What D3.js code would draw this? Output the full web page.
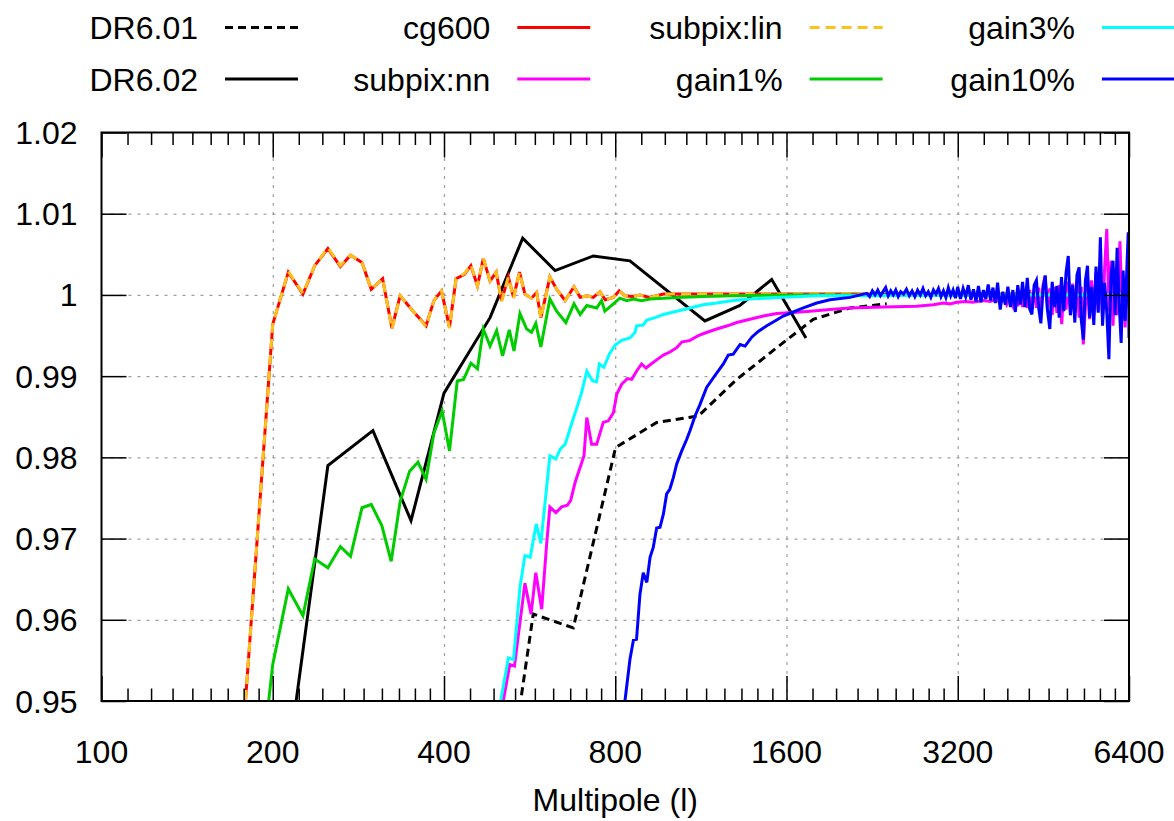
<!DOCTYPE html>
<html>
<head>
<meta charset="utf-8">
<script src="https://cdn.jsdelivr.net/npm/d3@7"></script>
<style>
  body { margin: 0; background: #fff; }
  svg { display: block; font-family: "Liberation Sans", Arial, Helvetica, sans-serif; }
</style>
</head>
<body>
<div id="chart"></div>
<script>
// x ticks (multipole) and y ticks (ratio)
const xTicks = [100, 200, 400, 800, 1600, 3200, 6400];
const yTicks = [0.95, 0.96, 0.97, 0.98, 0.99, 1.00, 1.01, 1.02];
const yTickLabels = ['0.95', '0.96', '0.97', '0.98', '0.99', '1', '1.01', '1.02'];

// each series: [multipole, ratio]
const dr601 = [
  [500, 0.9317], [574, 0.9607], [675, 0.9590], [801, 0.9812], [946, 0.9843],
  [1120, 0.9851], [1308, 0.9896], [1538, 0.9935], [1783, 0.9970], [2069, 0.9984], [2400, 0.9989]
];

const dr602 = [
  [200, 0.9286], [250, 0.9790], [300, 0.9833], [350, 0.9722], [400, 0.9879], [482, 0.9972],
  [550, 1.0070], [627, 1.0030], [732, 1.0048], [849, 1.0042], [1150, 0.9968], [1325, 0.9987],
  [1507, 1.0019], [1731, 0.9947]
];

const cg600 = [
  [175, 0.9403], [200, 0.9964], [213, 1.0028], [226, 1.0001], [237, 1.0036], [250, 1.0057],
  [263, 1.0035], [274, 1.0049], [287, 1.0040], [298, 1.0007], [312, 1.0020], [324, 0.9959],
  [335, 0.9999], [353, 0.9980], [372, 0.9962], [384, 0.9993], [396, 1.0005], [409, 0.9960],
  [420, 1.0020], [434, 1.0025], [446, 1.0036], [458, 1.0011], [469, 1.0045], [482, 1.0017],
  [494, 1.0028], [505, 0.9993], [519, 1.0022], [530, 0.9997], [543, 1.0028], [555, 1.0001],
  [570, 0.9996], [582, 1.0003], [592, 0.9972], [614, 1.0022], [631, 1.0007], [653, 0.9993],
  [677, 1.0010], [694, 0.9997], [713, 0.9999], [732, 0.9997], [752, 1.0004], [768, 0.9994],
  [794, 0.9997], [813, 1.0005], [832, 0.9999], [858, 0.9998], [884, 1.0000], [920, 0.9997],
  [972, 1.0001], [1052, 1.0001], [1300, 1.0001], [1700, 1.0001], [2400, 1.0001], [3500, 1.0001],
  [6400, 1.0001]
];

const subpixLin = [
  [175, 0.9403], [200, 0.9964], [213, 1.0029], [226, 1.0002], [237, 1.0036], [250, 1.0058],
  [263, 1.0036], [274, 1.0049], [287, 1.0040], [298, 1.0007], [312, 1.0020], [324, 0.9958],
  [335, 0.9999], [353, 0.9980], [372, 0.9961], [384, 0.9993], [396, 1.0005], [409, 0.9959],
  [420, 1.0020], [434, 1.0026], [446, 1.0037], [458, 1.0011], [469, 1.0045], [482, 1.0017],
  [494, 1.0028], [505, 0.9992], [519, 1.0022], [530, 0.9996], [543, 1.0028], [555, 1.0001],
  [570, 0.9996], [582, 1.0003], [592, 0.9971], [614, 1.0022], [631, 1.0007], [653, 0.9993],
  [677, 1.0010], [694, 0.9997], [713, 0.9999], [732, 0.9997], [752, 1.0004], [768, 0.9994],
  [794, 0.9997], [813, 1.0005], [832, 0.9999], [858, 0.9998], [884, 1.0000], [920, 0.9997],
  [972, 1.0001], [1052, 1.0001], [1300, 1.0001], [1700, 1.0001], [2400, 1.0001], [3500, 1.0001],
  [6400, 1.0001]
];

const subpixNN = [
  [495, 0.9454], [522, 0.9545], [532, 0.9543], [555, 0.9645], [569, 0.9607], [580, 0.9658],
  [594, 0.9613], [606, 0.9693], [614, 0.9739], [629, 0.9732], [644, 0.9739], [659, 0.9741],
  [668, 0.9747], [680, 0.9769], [695, 0.9789], [705, 0.9802], [713, 0.9849], [727, 0.9816],
  [742, 0.9816], [762, 0.9843], [778, 0.9845], [794, 0.9855], [805, 0.9878], [821, 0.9890],
  [840, 0.9897], [855, 0.9896], [872, 0.9906], [890, 0.9915], [906, 0.9910], [925, 0.9915],
  [946, 0.9920], [972, 0.9926], [1000, 0.9930], [1026, 0.9935], [1047, 0.9942], [1083, 0.9944],
  [1120, 0.9950], [1160, 0.9954], [1206, 0.9958], [1260, 0.9962], [1308, 0.9966], [1380, 0.9970],
  [1457, 0.9974], [1538, 0.9977], [1623, 0.9978], [1759, 0.9980], [1908, 0.9982], [2069, 0.9984],
  [2368, 0.9985], [2710, 0.9986], [2800, 0.9987], [2900, 0.9988], [3018, 0.9990], [3100, 0.9989],
  [3187, 0.9991], [3300, 0.9992], [3400, 0.9991], [3549, 0.9993], [3650, 0.9992], [3750, 0.9995],
  [3800, 0.9989], [3850, 0.9996], [3900, 0.9988], [3950, 0.9999], [4000, 0.9987], [4040, 1.0001],
  [4080, 0.9986], [4120, 1.0003], [4160, 0.9985], [4200, 1.0004], [4240, 0.9984], [4280, 1.0006],
  [4320, 0.9983], [4360, 1.0007], [4400, 0.9984], [4440, 1.0009], [4480, 0.9982], [4520, 1.0012],
  [4555, 1.0023], [4600, 0.9984], [4645, 1.0008], [4690, 0.9975], [4735, 1.0010], [4780, 0.9978],
  [4825, 1.0012], [4874, 0.9964], [4915, 1.0008], [4960, 0.9982], [5005, 1.0016], [5050, 0.9975],
  [5095, 1.0014], [5140, 0.9978], [5185, 1.0018], [5230, 0.9972], [5275, 1.0010], [5320, 0.9939],
  [5365, 0.9985], [5410, 1.0022], [5455, 0.9970], [5500, 1.0018], [5550, 0.9975], [5600, 1.0028],
  [5650, 0.9980], [5700, 1.0030], [5750, 0.9970], [5800, 1.0035], [5850, 1.0081], [5900, 0.9980],
  [5950, 1.0042], [6000, 0.9962], [6050, 1.0030], [6100, 0.9975], [6170, 1.0066], [6220, 0.9985],
  [6270, 1.0020], [6300, 0.9960], [6350, 1.0025], [6400, 0.9990]
];

const gain1 = [
  [188, 0.9376], [200, 0.9545], [213, 0.9638], [226, 0.9605], [237, 0.9675], [250, 0.9664],
  [263, 0.9690], [274, 0.9678], [287, 0.9738], [298, 0.9742], [311, 0.9716], [323, 0.9672],
  [335, 0.9746], [348, 0.9783], [360, 0.9794], [372, 0.9773], [384, 0.9830], [397, 0.9857],
  [409, 0.9808], [422, 0.9894], [433, 0.9896], [446, 0.9916], [458, 0.9909], [469, 0.9958],
  [482, 0.9937], [495, 0.9956], [507, 0.9925], [521, 0.9957], [531, 0.9931], [544, 0.9977],
  [559, 0.9958], [570, 0.9954], [580, 0.9965], [592, 0.9936], [614, 0.9995], [631, 0.9980],
  [655, 0.9966], [677, 0.9989], [694, 0.9976], [713, 0.9987], [742, 0.9984], [757, 0.9993],
  [767, 0.9980], [794, 0.9989], [815, 0.9996], [838, 0.9993], [861, 0.9995], [890, 0.9993],
  [921, 0.9995], [972, 0.9996], [1052, 0.9997], [1141, 0.9998], [1288, 0.9999], [1600, 1.0000],
  [2500, 1.0000], [6400, 1.0000]
];

const gain3 = [
  [490, 0.9455], [519, 0.9553], [530, 0.9551], [544, 0.9640], [555, 0.9679], [567, 0.9677],
  [581, 0.9718], [592, 0.9694], [614, 0.9802], [629, 0.9798], [640, 0.9810], [653, 0.9816],
  [666, 0.9835], [681, 0.9856], [697, 0.9878], [713, 0.9906], [730, 0.9894], [742, 0.9893],
  [750, 0.9915], [764, 0.9911], [781, 0.9927], [799, 0.9938], [821, 0.9944], [849, 0.9947],
  [867, 0.9954], [872, 0.9962], [896, 0.9963], [909, 0.9969], [940, 0.9972], [972, 0.9976],
  [1026, 0.9980], [1083, 0.9984], [1142, 0.9988], [1206, 0.9990], [1290, 0.9993], [1380, 0.9995],
  [1579, 0.9997], [1808, 0.9999], [2200, 0.9999], [3000, 1.0000], [6400, 1.0000]
];

const gain10 = [
  [815, 0.9448], [849, 0.9551], [861, 0.9575], [872, 0.9576], [884, 0.9631], [896, 0.9658],
  [909, 0.9646], [921, 0.9677], [933, 0.9689], [946, 0.9713], [959, 0.9714], [972, 0.9730],
  [985, 0.9755], [998, 0.9761], [1012, 0.9775], [1026, 0.9792], [1047, 0.9808], [1068, 0.9822],
  [1083, 0.9833], [1105, 0.9851], [1127, 0.9865], [1158, 0.9886], [1190, 0.9898], [1239, 0.9915],
  [1264, 0.9926], [1290, 0.9927], [1326, 0.9939], [1353, 0.9937], [1390, 0.9948], [1427, 0.9955],
  [1477, 0.9962], [1527, 0.9968], [1579, 0.9974], [1645, 0.9979], [1713, 0.9984], [1808, 0.9990],
  [1908, 0.9994], [2069, 0.9997], [2214, 1.0002], [2240, 0.9998], [2265, 1.0005], [2290, 1.0000],
  [2315, 1.0006], [2340, 0.9999], [2365, 1.0004], [2390, 1.0009], [2415, 0.9999], [2440, 1.0005],
  [2465, 1.0000], [2490, 1.0006], [2515, 0.9998], [2540, 1.0004], [2570, 1.0001], [2600, 1.0007],
  [2630, 0.9999], [2660, 1.0005], [2690, 0.9998], [2720, 1.0006], [2750, 1.0000], [2780, 1.0008],
  [2810, 0.9999], [2840, 1.0004], [2870, 0.9997], [2900, 1.0006], [2930, 1.0001], [2960, 1.0008],
  [2990, 0.9998], [3020, 1.0005], [3050, 0.9997], [3080, 1.0009], [3110, 0.9999], [3140, 1.0006],
  [3170, 0.9996], [3200, 1.0010], [3235, 0.9995], [3270, 1.0008], [3305, 0.9998], [3340, 1.0012],
  [3375, 0.9994], [3410, 1.0007], [3445, 0.9992], [3480, 1.0011], [3515, 0.9991], [3550, 1.0006],
  [3585, 0.9995], [3620, 1.0013], [3655, 0.9993], [3690, 1.0009], [3725, 0.9990], [3760, 1.0015],
  [3800, 0.9982], [3840, 1.0004], [3880, 0.9988], [3920, 1.0010], [3960, 0.9985], [4000, 1.0006],
  [4040, 0.9979], [4080, 1.0012], [4120, 0.9988], [4160, 1.0016], [4200, 0.9985], [4240, 1.0021],
  [4280, 0.9983], [4320, 0.9976], [4360, 1.0012], [4400, 1.0018], [4440, 0.9984], [4480, 0.9965],
  [4520, 1.0008], [4560, 1.0024], [4600, 0.9982], [4645, 0.9958], [4690, 1.0016], [4735, 0.9985],
  [4780, 1.0011], [4825, 0.9972], [4870, 1.0022], [4915, 0.9980], [4960, 1.0027], [5005, 1.0048],
  [5050, 0.9975], [5095, 1.0012], [5140, 0.9966], [5185, 1.0025], [5230, 1.0034], [5275, 0.9970],
  [5320, 0.9945], [5365, 1.0018], [5410, 1.0036], [5455, 0.9972], [5500, 1.0010], [5550, 0.9963],
  [5600, 1.0035], [5650, 0.9978], [5700, 1.0071], [5750, 0.9962], [5800, 1.0015], [5850, 0.9978],
  [5900, 0.9921], [5950, 1.0025], [6000, 1.0042], [6050, 0.9975], [6100, 1.0058], [6150, 0.9990],
  [6200, 0.9941], [6250, 1.0030], [6300, 0.9968], [6350, 1.0040], [6380, 1.0077], [6400, 0.9947]
];

// plot order = key order (gnuplot fills the key column by column)
const seriesNames = ['DR6.01', 'DR6.02', 'cg600', 'subpix:nn', 'subpix:lin', 'gain1%', 'gain3%', 'gain10%'];
const seriesData = [dr601, dr602, cg600, subpixNN, subpixLin, gain1, gain3, gain10];

const styles = {
  'DR6.01': { color: '#000000', dash: '8,5' },
  'DR6.02': { color: '#000000', dash: null },
  'cg600': { color: '#ff0000', dash: null },
  'subpix:nn': { color: '#ff00ff', dash: null },
  'subpix:lin': { color: '#ffc020', dash: '10,6' },
  'gain1%': { color: '#00cc00', dash: null },
  'gain3%': { color: '#00ffff', dash: null },
  'gain10%': { color: '#0000ff', dash: null },
};

const width = 1174;
const height = 821;
const plot = { left: 101.5, right: 1129, top: 132.5, bottom: 701 };

const svg = d3.select('#chart')
  .append('svg')
  .attr('width', width)
  .attr('height', height);

const x = d3.scaleLog().base(2).domain([100, 6400]).range([plot.left, plot.right]);
const y = d3.scaleLinear().domain([0.95, 1.02]).range([plot.bottom, plot.top]);

// minor x tics: 9 sub-intervals per octave, like gnuplot does here
const xMinor = [];
xTicks.slice(0, -1).forEach((t) => {
  for (let j = 1; j < 9; j++) xMinor.push(t * (1 + j / 9));
});

// grid lines
const grid = svg.append('g').attr('class', 'grid');
grid.append('g')
  .attr('transform', `translate(0,${plot.bottom})`)
  .call(d3.axisBottom(x).tickValues(xTicks.slice(1, -1)).tickSize(-(plot.bottom - plot.top)).tickFormat(''));
grid.append('g')
  .attr('transform', `translate(${plot.left},0)`)
  .call(d3.axisLeft(y).tickValues(yTicks.slice(1, -1)).tickSize(-(plot.right - plot.left)).tickFormat(''));
grid.selectAll('.domain').remove();
grid.selectAll('line')
  .attr('stroke', '#a0a0a0')
  .attr('stroke-width', 1.2)
  .attr('stroke-dasharray', '3,6');

// data lines
svg.append('clipPath').attr('id', 'clip')
  .append('rect')
  .attr('x', plot.left).attr('y', plot.top)
  .attr('width', plot.right - plot.left).attr('height', plot.bottom - plot.top);

const line = d3.line().x((d) => x(d[0])).y((d) => y(d[1]));

svg.append('g')
  .attr('clip-path', 'url(#clip)')
  .selectAll('path')
  .data(seriesData)
  .join('path')
  .attr('d', line)
  .attr('fill', 'none')
  .attr('stroke', (d, i) => styles[seriesNames[i]].color)
  .attr('stroke-width', 3)
  .attr('stroke-linejoin', 'miter')
  .attr('stroke-dasharray', (d, i) => styles[seriesNames[i]].dash);

// tics on all four sides, pointing inward
const tics = svg.append('g').attr('class', 'tics');
tics.append('g').attr('transform', `translate(0,${plot.bottom})`)
  .call(d3.axisBottom(x).tickValues(xTicks).tickSize(-25).tickFormat(''));
tics.append('g').attr('transform', `translate(0,${plot.bottom})`)
  .call(d3.axisBottom(x).tickValues(xMinor).tickSize(-12.5).tickFormat(''));
tics.append('g').attr('transform', `translate(0,${plot.top})`)
  .call(d3.axisTop(x).tickValues(xTicks).tickSize(-25).tickFormat(''));
tics.append('g').attr('transform', `translate(0,${plot.top})`)
  .call(d3.axisTop(x).tickValues(xMinor).tickSize(-12.5).tickFormat(''));
tics.append('g').attr('transform', `translate(${plot.left},0)`)
  .call(d3.axisLeft(y).tickValues(yTicks).tickSize(-25).tickFormat(''));
tics.append('g').attr('transform', `translate(${plot.right},0)`)
  .call(d3.axisRight(y).tickValues(yTicks).tickSize(-25).tickFormat(''));
tics.selectAll('.domain').remove();
tics.selectAll('line').attr('stroke', '#000').attr('stroke-width', 1.5);

// border
svg.append('rect')
  .attr('x', plot.left).attr('y', plot.top)
  .attr('width', plot.right - plot.left).attr('height', plot.bottom - plot.top)
  .attr('fill', 'none')
  .attr('stroke', '#000')
  .attr('stroke-width', 2);

// tick labels
svg.append('g')
  .selectAll('text')
  .data(xTicks)
  .join('text')
  .attr('x', (d) => x(d))
  .attr('y', 763)
  .attr('text-anchor', 'middle')
  .attr('font-size', 32)
  .text((d) => d);

svg.append('g')
  .selectAll('text')
  .data(yTicks)
  .join('text')
  .attr('x', 77.5)
  .attr('y', (d) => y(d) + 11.5)
  .attr('text-anchor', 'end')
  .attr('font-size', 32)
  .text((d, i) => yTickLabels[i]);

svg.append('text')
  .attr('x', (plot.left + plot.right) / 2)
  .attr('y', 811)
  .attr('text-anchor', 'middle')
  .attr('font-size', 32)
  .text('Multipole (l)');

// key: 2 rows, filled column by column
const key = svg.append('g').attr('class', 'key');
seriesNames.forEach((name, i) => {
  const col = Math.floor(i / 2);
  const row = i % 2;
  const ty = 27.5 + row * 51.5;
  const tx = 198 + col * 292.3;
  key.append('text')
    .attr('x', tx)
    .attr('y', ty + 11.5)
    .attr('text-anchor', 'end')
    .attr('font-size', 32)
    .text(name);
  key.append('line')
    .attr('x1', tx + 27).attr('x2', tx + 100)
    .attr('y1', ty).attr('y2', ty)
    .attr('stroke', styles[name].color)
    .attr('stroke-width', 3)
    .attr('stroke-dasharray', styles[name].dash);
});
</script>
</body>
</html>
